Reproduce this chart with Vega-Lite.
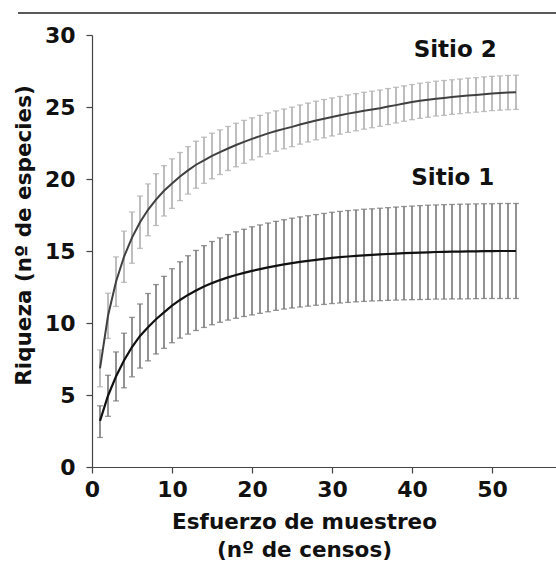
{
  "$schema": "https://vega.github.io/schema/vega-lite/v6.json",
  "width": 464,
  "height": 432,
  "autosize": {"type": "none"},
  "padding": {"left": 92, "top": 35, "right": 0, "bottom": 94},
  "background": "white",
  "config": {
    "view": {"stroke": null},
    "font": "DejaVu Sans",
    "axis": {
      "grid": false,
      "domainColor": "#444",
      "domainWidth": 1.2,
      "tickColor": "#444",
      "tickWidth": 1.2,
      "tickSize": 6,
      "labelFont": "DejaVu Sans",
      "labelFontSize": 22,
      "labelFontWeight": "bold",
      "labelColor": "#111",
      "titleFont": "DejaVu Sans",
      "titleFontSize": 21.5,
      "titleFontWeight": "bold",
      "titleColor": "#111",
      "labelFlush": false,
      "labelOverlap": false
    },
    "axisX": {"labelPadding": 6, "titlePadding": 11, "titleLineHeight": 28, "titleX": 212},
    "axisY": {"labelPadding": 11, "titlePadding": 9, "titleY": 200}
  },
  "datasets": {
    "s1": [
      {"x":1,"m":3.2,"lo":2.05,"hi":4.25},{"x":2,"m":4.95,"lo":3.52,"hi":6.37},{"x":3,"m":6.29,"lo":4.59,"hi":7.99},{"x":4,"m":7.4,"lo":5.5,"hi":9.29},{"x":5,"m":8.33,"lo":6.26,"hi":10.39},{"x":6,"m":9.1,"lo":6.87,"hi":11.32},{"x":7,"m":9.71,"lo":7.37,"hi":12.05},{"x":8,"m":10.26,"lo":7.85,"hi":12.67},{"x":9,"m":10.74,"lo":8.24,"hi":13.24},{"x":10,"m":11.2,"lo":8.63,"hi":13.77},
      {"x":11,"m":11.6,"lo":8.95,"hi":14.25},{"x":12,"m":11.95,"lo":9.23,"hi":14.67},{"x":13,"m":12.26,"lo":9.48,"hi":15.04},{"x":14,"m":12.53,"lo":9.69,"hi":15.37},{"x":15,"m":12.77,"lo":9.88,"hi":15.66},{"x":16,"m":12.98,"lo":10.05,"hi":15.91},{"x":17,"m":13.17,"lo":10.2,"hi":16.14},{"x":18,"m":13.33,"lo":10.33,"hi":16.33},{"x":19,"m":13.48,"lo":10.45,"hi":16.51},{"x":20,"m":13.62,"lo":10.56,"hi":16.68},
      {"x":21,"m":13.74,"lo":10.67,"hi":16.81},{"x":22,"m":13.86,"lo":10.78,"hi":16.94},{"x":23,"m":13.97,"lo":10.88,"hi":17.06},{"x":24,"m":14.07,"lo":10.97,"hi":17.17},{"x":25,"m":14.16,"lo":11.04,"hi":17.28},{"x":26,"m":14.24,"lo":11.11,"hi":17.37},{"x":27,"m":14.31,"lo":11.17,"hi":17.45},{"x":28,"m":14.38,"lo":11.23,"hi":17.53},{"x":29,"m":14.45,"lo":11.29,"hi":17.61},{"x":30,"m":14.52,"lo":11.35,"hi":17.69},
      {"x":31,"m":14.57,"lo":11.39,"hi":17.75},{"x":32,"m":14.62,"lo":11.43,"hi":17.81},{"x":33,"m":14.66,"lo":11.47,"hi":17.85},{"x":34,"m":14.7,"lo":11.5,"hi":17.9},{"x":35,"m":14.73,"lo":11.53,"hi":17.93},{"x":36,"m":14.76,"lo":11.55,"hi":17.97},{"x":37,"m":14.79,"lo":11.57,"hi":18.01},{"x":38,"m":14.82,"lo":11.59,"hi":18.05},{"x":39,"m":14.85,"lo":11.61,"hi":18.09},{"x":40,"m":14.87,"lo":11.62,"hi":18.12},
      {"x":41,"m":14.89,"lo":11.63,"hi":18.15},{"x":42,"m":14.91,"lo":11.64,"hi":18.18},{"x":43,"m":14.93,"lo":11.66,"hi":18.2},{"x":44,"m":14.94,"lo":11.66,"hi":18.22},{"x":45,"m":14.95,"lo":11.67,"hi":18.23},{"x":46,"m":14.96,"lo":11.67,"hi":18.25},{"x":47,"m":14.97,"lo":11.68,"hi":18.26},{"x":48,"m":14.98,"lo":11.69,"hi":18.27},{"x":49,"m":14.99,"lo":11.7,"hi":18.28},{"x":50,"m":14.99,"lo":11.7,"hi":18.28},
      {"x":51,"m":15.0,"lo":11.7,"hi":18.3},{"x":52,"m":15.0,"lo":11.7,"hi":18.3},{"x":53,"m":15.0,"lo":11.7,"hi":18.3}
    ],
    "s2": [
      {"x":1,"m":6.85,"lo":5.57,"hi":8.13},{"x":2,"m":10.5,"lo":8.93,"hi":12.07},{"x":3,"m":12.87,"lo":11.15,"hi":14.59},{"x":4,"m":14.6,"lo":12.82,"hi":16.38},{"x":5,"m":15.93,"lo":14.15,"hi":17.71},{"x":6,"m":17.0,"lo":15.18,"hi":18.82},{"x":7,"m":17.86,"lo":16.06,"hi":19.66},{"x":8,"m":18.57,"lo":16.77,"hi":20.37},{"x":9,"m":19.18,"lo":17.43,"hi":20.93},{"x":10,"m":19.68,"lo":17.96,"hi":21.4},
      {"x":11,"m":20.17,"lo":18.5,"hi":21.84},{"x":12,"m":20.6,"lo":18.95,"hi":22.25},{"x":13,"m":20.99,"lo":19.36,"hi":22.62},{"x":14,"m":21.3,"lo":19.7,"hi":22.9},{"x":15,"m":21.6,"lo":20.02,"hi":23.18},{"x":16,"m":21.86,"lo":20.31,"hi":23.41},{"x":17,"m":22.12,"lo":20.59,"hi":23.65},{"x":18,"m":22.36,"lo":20.85,"hi":23.87},{"x":19,"m":22.58,"lo":21.09,"hi":24.07},{"x":20,"m":22.79,"lo":21.33,"hi":24.25},
      {"x":21,"m":22.98,"lo":21.54,"hi":24.42},{"x":22,"m":23.17,"lo":21.75,"hi":24.59},{"x":23,"m":23.33,"lo":21.93,"hi":24.73},{"x":24,"m":23.48,"lo":22.1,"hi":24.86},{"x":25,"m":23.62,"lo":22.25,"hi":24.99},{"x":26,"m":23.78,"lo":22.42,"hi":25.14},{"x":27,"m":23.92,"lo":22.57,"hi":25.27},{"x":28,"m":24.06,"lo":22.72,"hi":25.4},{"x":29,"m":24.19,"lo":22.86,"hi":25.52},{"x":30,"m":24.31,"lo":22.99,"hi":25.63},
      {"x":31,"m":24.42,"lo":23.11,"hi":25.73},{"x":32,"m":24.54,"lo":23.24,"hi":25.84},{"x":33,"m":24.64,"lo":23.35,"hi":25.93},{"x":34,"m":24.74,"lo":23.46,"hi":26.02},{"x":35,"m":24.83,"lo":23.56,"hi":26.1},{"x":36,"m":24.92,"lo":23.66,"hi":26.18},{"x":37,"m":25.03,"lo":23.78,"hi":26.28},{"x":38,"m":25.13,"lo":23.89,"hi":26.37},{"x":39,"m":25.24,"lo":24.01,"hi":26.47},{"x":40,"m":25.34,"lo":24.12,"hi":26.56},
      {"x":41,"m":25.43,"lo":24.21,"hi":26.65},{"x":42,"m":25.5,"lo":24.29,"hi":26.71},{"x":43,"m":25.58,"lo":24.37,"hi":26.79},{"x":44,"m":25.63,"lo":24.42,"hi":26.84},{"x":45,"m":25.69,"lo":24.49,"hi":26.89},{"x":46,"m":25.74,"lo":24.54,"hi":26.94},{"x":47,"m":25.8,"lo":24.6,"hi":27.0},{"x":48,"m":25.84,"lo":24.64,"hi":27.04},{"x":49,"m":25.89,"lo":24.69,"hi":27.09},{"x":50,"m":25.94,"lo":24.75,"hi":27.13},
      {"x":51,"m":25.97,"lo":24.78,"hi":27.16},{"x":52,"m":26.0,"lo":24.81,"hi":27.19},{"x":53,"m":26.02,"lo":24.83,"hi":27.21}
    ]
  },
  "layer": [
    {
      "data": {"name": "s2"},
      "mark": {"type": "errorbar", "color": "#a9a9a9", "thickness": 1.5, "ticks": {"size": 6, "thickness": 1.3}},
      "encoding": {
        "x": {"field": "x", "type": "quantitative", "title": ["Esfuerzo de muestreo", "(nº de censos)"], "scale": {"domain": [0, 58], "nice": false, "zero": false}, "axis": {"values": [0, 10, 20, 30, 40, 50]}},
        "y": {"field": "lo", "type": "quantitative", "title": "Riqueza (nº de especies)", "scale": {"domain": [0, 30], "nice": false}, "axis": {"values": [0, 5, 10, 15, 20, 25, 30]}},
        "y2": {"field": "hi"}
      }
    },
    {
      "data": {"name": "s1"},
      "mark": {"type": "errorbar", "color": "#6e6e6e", "thickness": 1.5, "ticks": {"size": 6, "thickness": 1.3}},
      "encoding": {
        "x": {"field": "x", "type": "quantitative", "title": ["Esfuerzo de muestreo", "(nº de censos)"]},
        "y": {"field": "lo", "type": "quantitative", "title": "Riqueza (nº de especies)"},
        "y2": {"field": "hi"}
      }
    },
    {
      "data": {"name": "s2"},
      "mark": {"type": "line", "color": "#404040", "strokeWidth": 2},
      "encoding": {
        "x": {"field": "x", "type": "quantitative", "title": ["Esfuerzo de muestreo", "(nº de censos)"]},
        "y": {"field": "m", "type": "quantitative", "title": "Riqueza (nº de especies)"}
      }
    },
    {
      "data": {"name": "s1"},
      "mark": {"type": "line", "color": "#111111", "strokeWidth": 2.2},
      "encoding": {
        "x": {"field": "x", "type": "quantitative", "title": ["Esfuerzo de muestreo", "(nº de censos)"]},
        "y": {"field": "m", "type": "quantitative", "title": "Riqueza (nº de especies)"}
      }
    },
    {
      "data": {"name": "s1"},
      "transform": [{"filter": "datum.x == 1"}],
      "mark": {"type": "text", "font": "DejaVu Sans", "fontWeight": "bold", "fontSize": 23, "color": "#111", "align": "center", "baseline": "middle", "clip": false},
      "encoding": {"x": {"datum": 45.4, "type": "quantitative"}, "y": {"datum": 28.96, "type": "quantitative"}, "text": {"value": "Sitio 2"}}
    },
    {
      "data": {"name": "s1"},
      "transform": [{"filter": "datum.x == 1"}],
      "mark": {"type": "text", "font": "DejaVu Sans", "fontWeight": "bold", "fontSize": 23, "color": "#111", "align": "center", "baseline": "middle", "clip": false},
      "encoding": {"x": {"datum": 45.1, "type": "quantitative"}, "y": {"datum": 20.1, "type": "quantitative"}, "text": {"value": "Sitio 1"}}
    },
    {
      "data": {"name": "s1"},
      "transform": [{"filter": "datum.x == 1"}],
      "mark": {"type": "rule", "color": "#222", "strokeWidth": 1.5, "clip": false},
      "encoding": {"x": {"datum": -9.25, "type": "quantitative"}, "x2": {"datum": 58}, "y": {"datum": 31.53, "type": "quantitative"}}
    }
  ]
}
